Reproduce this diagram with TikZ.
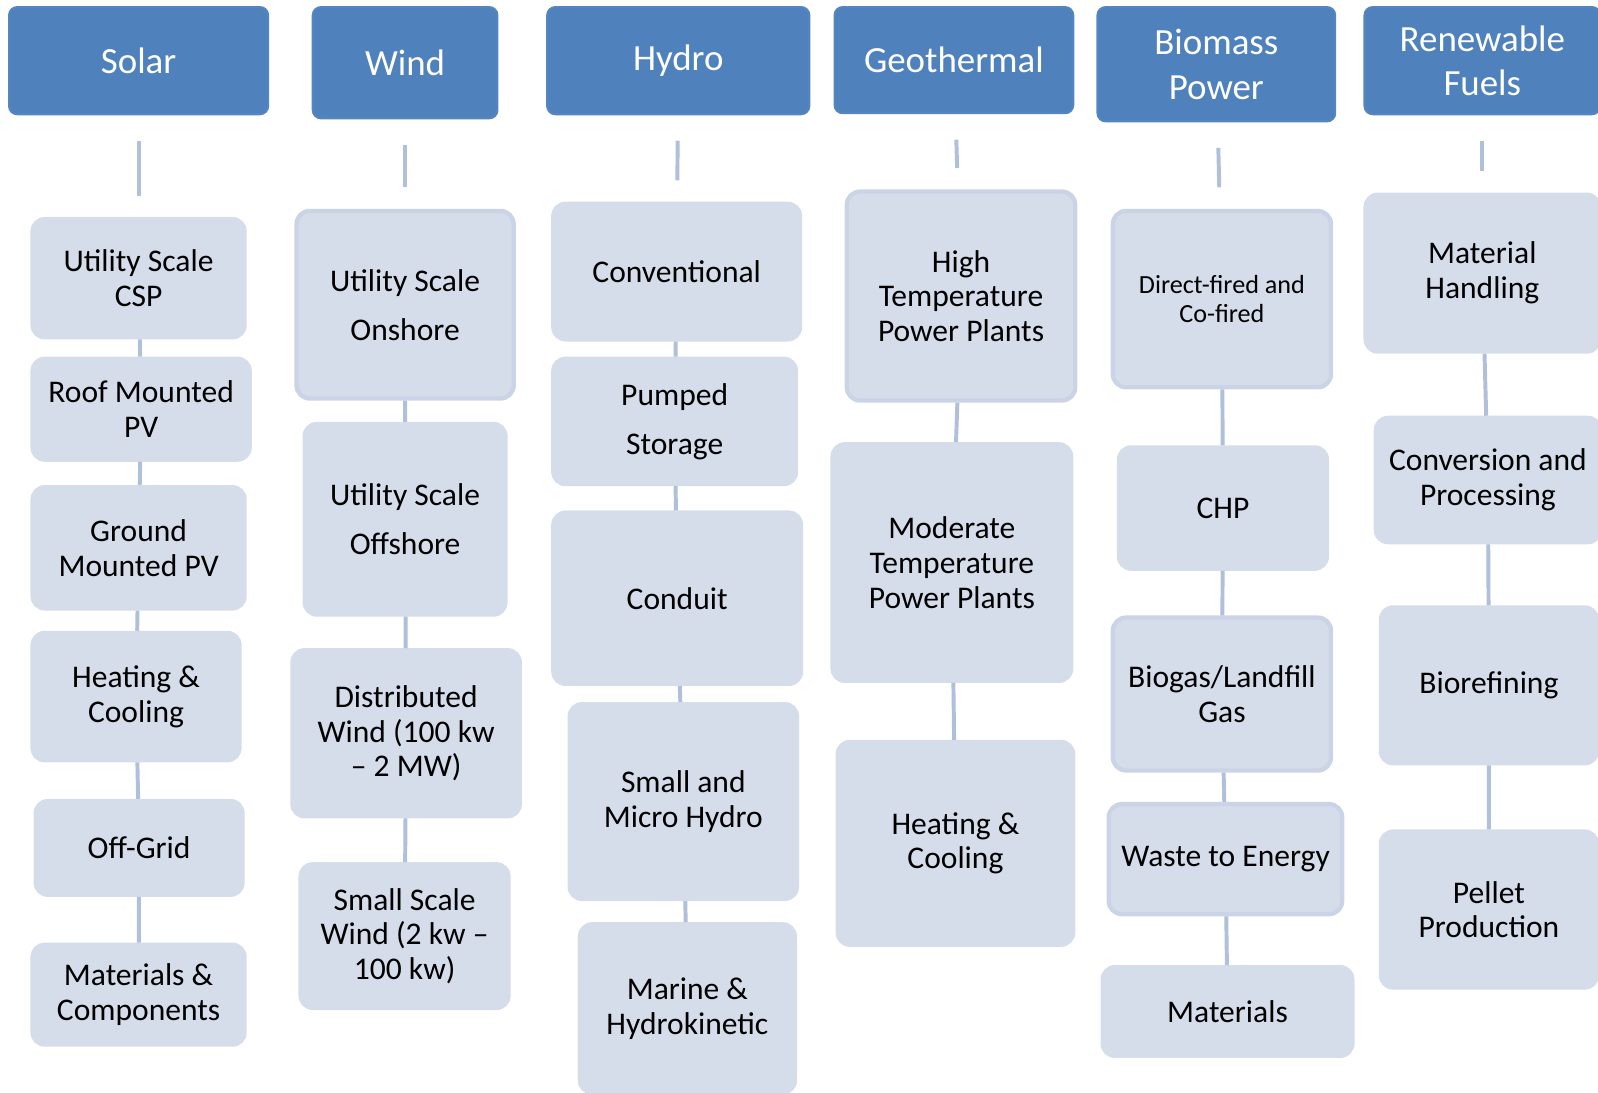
\documentclass[tikz,border=0pt]{standalone}
\usepackage{fontspec}
\setmainfont{Carlito}
\usetikzlibrary{positioning}
\definecolor{catBlue}{RGB}{79, 129, 189}
\definecolor{catEdge}{RGB}{84, 133, 192}
\definecolor{subFill}{RGB}{213, 220, 234}
\definecolor{subEdge}{RGB}{203, 212, 231}
\definecolor{linkBlue}{RGB}{176, 191, 218}

\begin{document}
\begin{tikzpicture}[
        x=0.01cm, y=-0.01cm,
        catNode/.style={rectangle, fill=catBlue, draw=catEdge, line width=0.6pt, text=white, rounded corners=0.08cm, inner sep=0pt, align=center, font=\fontsize{10.3}{12.4}\selectfont},
        subNode/.style={rectangle, fill=subFill, draw=subFill, line width=0.6pt, text=black, rounded corners=0.13cm, inner sep=0pt, align=center, font=\fontsize{8.8}{9.7}\selectfont},
        framedNode/.style={subNode, draw=subEdge, line width=1.2pt},
        wideText/.style={font=\fontsize{8.8}{13.7}\selectfont},
        linkLine/.style={draw=linkBlue, line width=1.1pt},
        hdrLink/.style={linkLine, shorten <=0.25cm, shorten >=0.21cm}
    ]
        \useasboundingbox (0,0) rectangle (1568,1072);
        \clip (0,0) rectangle (1568,1072);

        % headers
        \node[catNode, minimum width=2.54cm, minimum height=1.05cm] (solar) at (136,59.5) {Solar};
        \node[catNode, minimum width=1.81cm, minimum height=1.09cm] (wind) at (397.5,61.5) {Wind};
        \node[catNode, minimum width=2.57cm, minimum height=1.05cm] (hydro) at (665.5,59.5) {Hydro};
        \node[catNode, minimum width=2.34cm, minimum height=1.04cm] (geo) at (936,59) {Geothermal};
        \node[catNode, minimum width=2.33cm, minimum height=1.12cm] (bio) at (1193.5,63) {Biomass\\Power};
        \node[catNode, minimum width=2.31cm, minimum height=1.05cm] (fuel) at (1454.5,59.5) {Renewable\\Fuels};

        % solar
        \node[subNode, minimum width=2.10cm, minimum height=1.18cm] (sCsp) at (136,273) {Utility Scale\\CSP};
        \node[subNode, minimum width=2.15cm, minimum height=1.01cm] (sRoof) at (138.5,401.5) {Roof Mounted\\PV};
        \node[subNode, minimum width=2.10cm, minimum height=1.21cm] (sGround) at (136,537.5) {Ground\\Mounted PV};
        \node[subNode, minimum width=2.05cm, minimum height=1.27cm] (sHeat) at (133.5,683.5) {Heating \&\\Cooling};
        \node[subNode, minimum width=2.05cm, minimum height=0.94cm] (sOff) at (136.5,832) {Off-Grid};
        \node[subNode, minimum width=2.10cm, minimum height=1.00cm] (sMat) at (136,976) {Materials \&\\Components};

        % wind
        \node[framedNode, wideText, minimum width=2.13cm, minimum height=1.84cm] (wOn) at (397.5,299) {Utility Scale\\Onshore};
        \node[subNode, wideText, minimum width=1.99cm, minimum height=1.89cm] (wOff) at (397.5,509.5) {Utility Scale\\Offshore};
        \node[subNode, minimum width=2.25cm, minimum height=1.65cm] (wDist) at (398.5,719.5) {Distributed\\Wind (100 kw\\– 2 MW)};
        \node[subNode, minimum width=2.06cm, minimum height=1.43cm] (wSmall) at (397,918.5) {Small Scale\\Wind (2 kw –\\100 kw)};

        % hydro
        \node[subNode, minimum width=2.44cm, minimum height=1.35cm] (hConv) at (664,266.5) {Conventional};
        \node[subNode, wideText, minimum width=2.40cm, minimum height=1.25cm] (hPump) at (662,413.5) {Pumped\\Storage};
        \node[subNode, minimum width=2.45cm, minimum height=1.70cm] (hCond) at (664.5,587) {Conduit};
        \node[subNode, minimum width=2.25cm, minimum height=1.93cm] (hSmall) at (670.5,786.5) {Small and\\Micro Hydro};
        \node[subNode, minimum width=2.13cm, minimum height=1.67cm] (hMarine) at (674.5,989.5) {Marine \&\\Hydrokinetic};

        % geothermal
        \node[framedNode, minimum width=2.24cm, minimum height=2.05cm] (gHigh) at (943,290.5) {High\\Temperature\\Power Plants};
        \node[subNode, minimum width=2.36cm, minimum height=2.34cm] (gMod) at (934,552) {Moderate\\Temperature\\Power Plants};
        \node[subNode, minimum width=2.33cm, minimum height=2.01cm] (gHeat) at (937.5,827.5) {Heating \&\\Cooling};

        % biomass
        \node[framedNode, font=\fontsize{7.3}{8.3}\selectfont, minimum width=2.14cm, minimum height=1.73cm] (bDirect) at (1199,293.5) {Direct-fired and\\Co-fired};
        \node[subNode, minimum width=2.06cm, minimum height=1.21cm] (bChp) at (1200,498.5) {CHP};
        \node[framedNode, minimum width=2.14cm, minimum height=1.50cm] (bGas) at (1199,681) {Biogas/Landfill\\Gas};
        \node[framedNode, minimum width=2.29cm, minimum height=1.08cm] (bWaste) at (1202.5,843) {Waste to Energy};
        \node[subNode, minimum width=2.47cm, minimum height=0.89cm] (bMat) at (1204.5,992.5) {Materials};

        % renewable fuels
        \node[subNode, minimum width=2.31cm, minimum height=1.56cm] (fHandle) at (1454.5,268) {Material\\Handling};
        \node[subNode, minimum width=2.22cm, minimum height=1.24cm] (fConv) at (1460,471) {Conversion and\\Processing};
        \node[subNode, minimum width=2.14cm, minimum height=1.55cm] (fBio) at (1461,672.5) {Biorefining};
        \node[subNode, minimum width=2.14cm, minimum height=1.55cm] (fPellet) at (1461,892.5) {Pellet\\Production};

        % connectors
        \draw[hdrLink] (solar) -- (sCsp);
        \draw[hdrLink] (wind) -- (wOn);
        \draw[hdrLink] (hydro) -- (hConv);
        \draw[hdrLink] (geo) -- (gHigh);
        \draw[hdrLink] (bio) -- (bDirect);
        \draw[hdrLink] (fuel) -- (fHandle);

        \draw[linkLine] (sCsp) -- (sRoof) (sRoof) -- (sGround) (sGround) -- (sHeat) (sHeat) -- (sOff) (sOff) -- (sMat);
        \draw[linkLine] (wOn) -- (wOff) (wOff) -- (wDist) (wDist) -- (wSmall);
        \draw[linkLine] (hConv) -- (hPump) (hPump) -- (hCond) (hCond) -- (hSmall) (hSmall) -- (hMarine);
        \draw[linkLine] (gHigh) -- (gMod) (gMod) -- (gHeat);
        \draw[linkLine] (bDirect) -- (bChp) (bChp) -- (bGas) (bGas) -- (bWaste) (bWaste) -- (bMat);
        \draw[linkLine] (fHandle) -- (fConv) (fConv) -- (fBio) (fBio) -- (fPellet);
    \end{tikzpicture}
\end{document}
